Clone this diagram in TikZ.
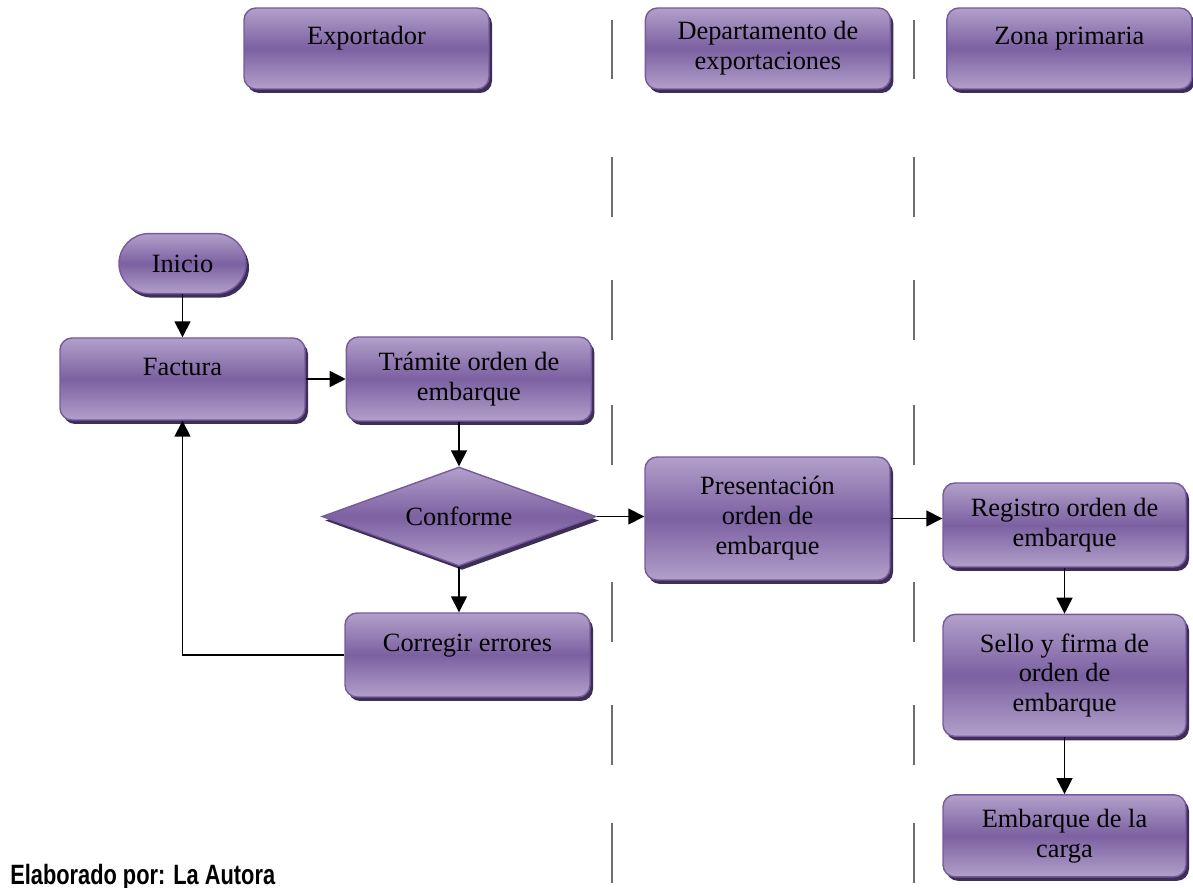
\documentclass[tikz,border=0pt]{standalone}
\usepackage{fontspec}
\setmainfont{Liberation Serif}
\newfontfamily\piefont{Liberation Sans}
\usepackage{tikz}
\usetikzlibrary{positioning}
\usetikzlibrary{shapes.geometric}
\usetikzlibrary{shadows}
\usetikzlibrary{arrows.meta}

\definecolor{lilaclaro}{RGB}{178,160,202}
\definecolor{lilaoscuro}{RGB}{124,96,161}
\definecolor{lilaborde}{RGB}{118,90,160}
\definecolor{lilasombra}{RGB}{62,45,85}
\definecolor{carrilgris}{RGB}{110,110,110}

\tikzset{
    caja/.style={rectangle, rounded corners=0.24cm, draw=lilaborde, line width=0.8pt,
        top color=lilaclaro, bottom color=lilaclaro, middle color=lilaoscuro,
        drop shadow={shadow xshift=0.06cm, shadow yshift=-0.08cm, fill=lilasombra, opacity=1},
        minimum width=4.9cm, minimum height=1.66cm, inner sep=2pt, align=center,
        font=\rmfamily\fontsize{15}{17}\selectfont},
    unalinea/.style={text height=0.35cm, text depth=0.49cm},
    decision/.style={caja, diamond, rounded corners=0pt, aspect=2.8, inner sep=0pt},
    flecha/.style={-{Triangle[length=0.32cm,width=0.32cm]}, line width=0.9pt},
    carril/.style={carrilgris, line width=1.1pt}
}

\begin{document}
\begin{tikzpicture}
    \useasboundingbox (0,0) rectangle (23.86,-17.76);

    % carriles
    \foreach \ya/\yb in {0.40/1.58, 3.14/4.34, 5.60/6.80, 8.10/9.30, 11.64/12.84, 14.10/15.30, 16.46/17.66} {
        \draw[carril] (12.24,-\ya) -- (12.24,-\yb);
        \draw[carril] (18.28,-\ya) -- (18.28,-\yb);
    }

    % encabezados
    \node[caja, unalinea, minimum height=1.62cm] (exp) at (7.33,-0.97) {Exportador};
    \node[caja, minimum height=1.62cm, right=3.1cm of exp] (dep) {Departamento de\\exportaciones};
    \node[caja, unalinea, minimum height=1.62cm, right=1.1cm of dep] (zona) {Zona primaria};

    % exportador
    \node[caja, unalinea, minimum height=1.64cm] (fac) at (3.65,-7.58) {Factura};
    \node[caja, rounded corners=0.6cm, minimum width=2.54cm, minimum height=1.2cm, above=0.86cm of fac] (ini) {Inicio};
    \node[caja, minimum height=1.68cm, right=0.8cm of fac] (tram) {Trámite orden de\\embarque};
    \node[decision, minimum width=5.48cm, minimum height=1.98cm] (conf) at (9.18,-10.33) {Conforme};
    \node[caja, unalinea, minimum height=1.68cm] (corr) at (9.35,-13.1) {Corregir errores};

    % departamento de exportaciones
    \node[caja, minimum height=2.46cm] (pres) at (15.35,-10.37) {Presentación\\orden de\\embarque};

    % zona primaria
    \node[caja, minimum width=4.86cm, minimum height=1.68cm] (reg) at (21.29,-10.5) {Registro orden de\\embarque};
    \node[caja, minimum width=4.86cm, minimum height=2.44cm, below=0.92cm of reg] (sello) {Sello y firma de\\orden de\\embarque};
    \node[caja, minimum width=4.86cm, minimum height=1.64cm, below=1.14cm of sello] (emb) {Embarque de la\\carga};

    % flechas
    \draw[flecha] (ini.south) -- (ini.south |- fac.north);
    \draw[flecha] (fac.east) -- (tram.west);
    \draw[flecha] (tram.south -| conf.north) -- (conf.north);
    \draw[flecha] (conf.south) -- (conf.south |- corr.north);
    \draw[flecha] (corr.west) -| (fac.south);
    \draw[flecha] (conf.east) -- (conf.east -| pres.west);
    \draw[flecha] (pres.east) -- (pres.east -| reg.west);
    \draw[flecha] (reg.south) -- (sello.north);
    \draw[flecha] (sello.south) -- (emb.north);

    \node[anchor=base west, inner sep=0pt] (pie) at (0.2,-17.68)
        {\scalebox{0.78}[1]{\piefont\bfseries\fontsize{15.9}{18}\selectfont Elaborado por: La Autora}};
\end{tikzpicture}
\end{document}
